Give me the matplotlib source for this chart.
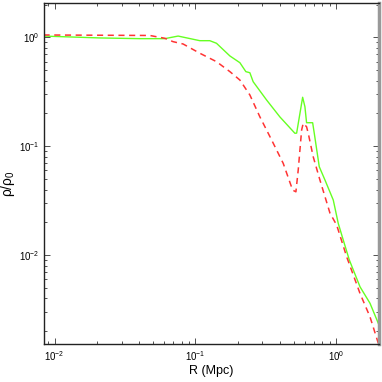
import matplotlib
matplotlib.use("Agg")
from matplotlib import pyplot as plt
from matplotlib.ticker import LogLocator, NullFormatter

plt.rcParams['font.family'] = ['Liberation Sans', 'DejaVu Sans']
plt.rcParams['mathtext.fontset'] = 'custom'
plt.rcParams['mathtext.rm'] = 'Liberation Sans'
plt.rcParams['mathtext.it'] = 'Liberation Sans:italic'

# ---- data ----
r_green = [0.00835, 0.0209, 0.0403, 0.0607, 0.0755, 0.1077, 0.1268, 0.1415,
           0.1762, 0.2075, 0.2288, 0.2443, 0.2578, 0.3213, 0.3993, 0.5106,
           0.5252, 0.5795, 0.6014, 0.618, 0.6825, 0.701, 0.7606, 0.8351,
           0.9567, 1.038, 1.127, 1.244, 1.482, 1.745, 2.0]
rho_green = [1.03, 0.99, 0.975, 0.975, 1.03, 0.934, 0.934, 0.884,
             0.676, 0.586, 0.485, 0.474, 0.392, 0.266, 0.186, 0.1315,
             0.132, 0.282, 0.231, 0.1645, 0.1645, 0.1315, 0.0648, 0.0489,
             0.032, 0.0195, 0.0137, 0.009, 0.0051, 0.0036, 0.00235]

r_red = [0.00835, 0.0475, 0.0607, 0.0695, 0.0819, 0.1077, 0.1415, 0.1762,
         0.2075, 0.2443, 0.288, 0.349, 0.4217, 0.492, 0.519, 0.539, 0.570,
         0.585, 0.618, 0.635, 0.689, 0.769, 0.906, 1.012, 1.192, 1.482,
         1.745, 2.0]
rho_red = [1.054, 1.043, 0.983, 0.915, 0.871, 0.716, 0.599, 0.485,
           0.406, 0.296, 0.186, 0.114, 0.0696, 0.0395, 0.0381, 0.0604, 0.141,
           0.1625, 0.151, 0.1315, 0.080, 0.0489, 0.0243, 0.0188, 0.0096, 0.00443,
           0.0027, 0.00154]

fig = plt.figure(figsize=(3.82, 3.82), dpi=100)
ax = fig.add_axes([0.115, 0.0995, 0.877, 0.893])

ax.plot(r_green, rho_green, color='#66ff22', lw=1.0)
ax.plot(r_red, rho_red, color='#ff3333', lw=1.1, ls=(0, (4, 3)))

ax.set_xscale('log')
ax.set_yscale('log')
ax.set_xlim(0.0084, 2.02)
ax.set_ylim(0.00152, 2.08)

for a in (ax.xaxis, ax.yaxis):
    a.set_minor_locator(LogLocator(base=10, subs=range(2, 10)))
    a.set_minor_formatter(NullFormatter())

ax.tick_params(which='both', direction='in', top=True, right=True,
               labelsize=7, color='#333333', width=0.6)
ax.tick_params(which='major', length=4)
ax.tick_params(which='minor', length=2)

for s in ('left', 'bottom', 'top'):
    ax.spines[s].set_linewidth(1.0)
    ax.spines[s].set_color('#222222')
ax.spines['right'].set_linewidth(2.5)
ax.spines['right'].set_color('#999999')

ax.set_xlabel('R (Mpc)', fontsize=9, labelpad=2)
ax.set_ylabel(u'ρ/ρ$_\\mathregular{0}$', fontsize=10, labelpad=1)
ax.yaxis.set_label_coords(-0.08, 0.47)

fig.savefig('out.png', dpi=100)
